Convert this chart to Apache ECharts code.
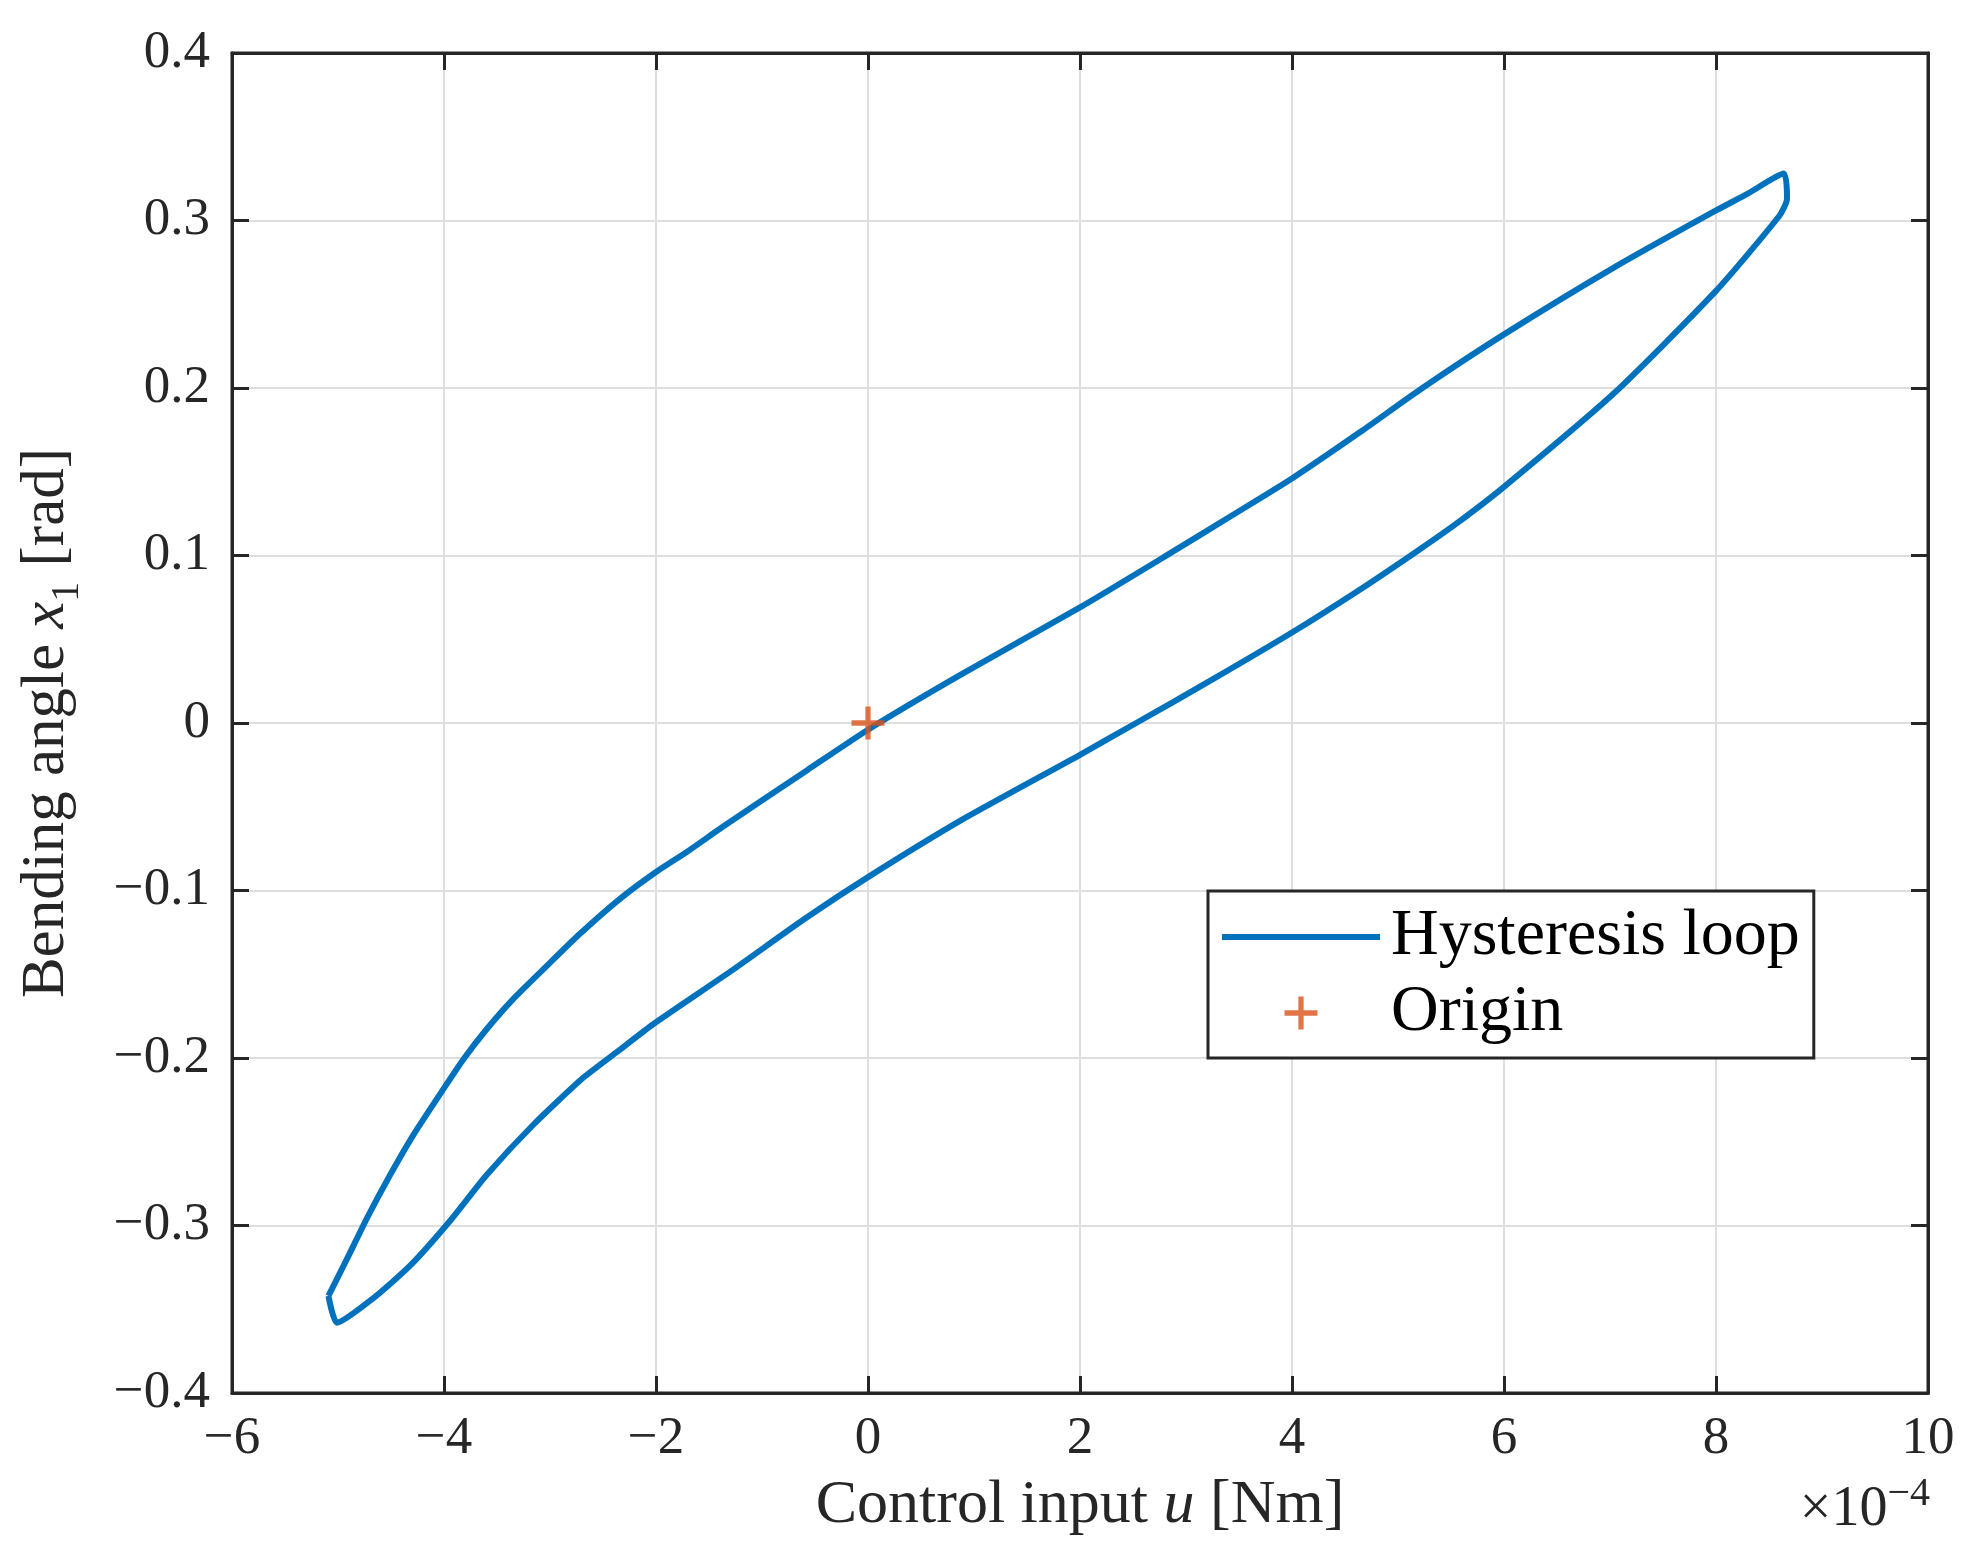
<!DOCTYPE html>
<html>
<head>
<meta charset="utf-8">
<script src="https://cdn.jsdelivr.net/npm/echarts@6/dist/echarts.min.js"></script>
<style>
html,body{margin:0;padding:0;background:#ffffff;}
#chart{width:1980px;height:1558px;}
</style>
</head>
<body>
<div id="chart"></div>
<script>
// ---- data (control input u in units of 1e-4 Nm, bending angle x1 in rad) ----
const xTickValues = [-6, -4, -2, 0, 2, 4, 6, 8, 10];
const yTickValues = [-0.4, -0.3, -0.2, -0.1, 0, 0.1, 0.2, 0.3, 0.4];
const xScaleLabel = '×10';
const xScaleExp = '−4';

// hysteresis loop traced in order (upper branch up, lower branch back down)
const loopU = [
  -5.09, -4.90, -4.73, -4.51, -4.29, -4.00, -3.82, -3.60, -3.35, -3.03,
  -2.72, -2.34, -2.00, -1.71, -1.37, -0.57, 0.00, 0.88, 2.00, 2.79,
  3.41, 4.00, 4.65, 5.23, 6.00, 7.04, 8.00, 8.30, 8.64,
  8.67,
  8.60, 8.00, 7.04, 6.00, 5.55, 5.19, 4.65, 4.00, 3.25, 2.53,
  2.00, 0.88, 0.00, -0.60, -1.29, -2.03, -2.34, -2.69, -3.16, -3.60,
  -3.94, -4.32, -4.66, -5.01, -5.09
];
const loopX1 = [
  -0.342, -0.318, -0.296, -0.270, -0.246, -0.218, -0.201, -0.183, -0.165, -0.145,
  -0.126, -0.105, -0.089, -0.077, -0.062, -0.028, -0.004, 0.029, 0.069, 0.099,
  0.123, 0.146, 0.174, 0.200, 0.232, 0.272, 0.306, 0.316, 0.328,
  0.313,
  0.303, 0.258, 0.197, 0.141, 0.119, 0.103, 0.080, 0.054, 0.026, 0.000,
  -0.019, -0.058, -0.092, -0.117, -0.148, -0.180, -0.195, -0.212, -0.240, -0.270,
  -0.297, -0.324, -0.343, -0.358, -0.342
];
const originU = [0];
const originX1 = [0];

const seriesNames = ['Hysteresis loop', 'Origin'];

// ---- chart ----
const FONT = '"Liberation Serif", "DejaVu Serif", serif';
const TXT = '#262626';
const fmt = v => {
  const r = Math.round(v * 10) / 10;
  return String(r).replace('-', '\u2212');
};

const loopData = loopU.map((u, i) => [u, loopX1[i]]);
const originData = originU.map((u, i) => [u, originX1[i]]);
const plusPath = 'path://M42,0 L58,0 L58,42 L100,42 L100,58 L58,58 L58,100 L42,100 L42,58 L0,58 L0,42 L42,42 Z';
const lineIcon = 'path://M0,0 L158,0 L158,6 L0,6 Z';

const chart = echarts.init(document.getElementById('chart'), null, {renderer: 'canvas'});

const axisCommon = {
  type: 'value',
  axisLine: {show: true, onZero: false, lineStyle: {color: TXT, width: 3}},
  axisTick: {show: true, inside: true, length: 17, lineStyle: {color: TXT, width: 3}},
};

chart.setOption({
  backgroundColor: '#ffffff',
  animation: false,
  grid: {left: 232, right: 52, top: 53, bottom: 165, containLabel: false,
         outerBoundsMode: 'none',
         show: true, borderColor: TXT, borderWidth: 3},
  xAxis: [
    Object.assign({}, axisCommon, {
      min: xTickValues[0], max: xTickValues[xTickValues.length - 1], interval: 2,
      position: 'bottom',
      axisLabel: {show: true, margin: 20, fontFamily: FONT, fontSize: 53, color: TXT, formatter: fmt},
      splitLine: {show: true, lineStyle: {color: '#dedede', width: 2}},
      name: 'Control input {i|u} [Nm]',
      nameLocation: 'middle', nameGap: 82,
      nameTextStyle: {fontFamily: FONT, fontSize: 62, color: TXT,
        rich: {i: {fontFamily: FONT, fontSize: 62, fontStyle: 'italic', color: TXT}}}
    }),
    Object.assign({}, axisCommon, {
      min: xTickValues[0], max: xTickValues[xTickValues.length - 1], interval: 2,
      position: 'top',
      axisLabel: {show: false}, splitLine: {show: false}
    })
  ],
  yAxis: [
    Object.assign({}, axisCommon, {
      min: yTickValues[0], max: yTickValues[yTickValues.length - 1], interval: 0.1,
      position: 'left',
      axisLabel: {show: true, margin: 22, fontFamily: FONT, fontSize: 53, color: TXT, formatter: fmt},
      splitLine: {show: true, lineStyle: {color: '#dedede', width: 2}},
      name: 'Bending angle {i|x}{s|1} [rad]',
      nameLocation: 'middle', nameGap: 145, nameRotate: 90,
      nameTextStyle: {fontFamily: FONT, fontSize: 61, color: TXT, lineHeight: 80,
        rich: {
          i: {fontFamily: FONT, fontSize: 61, fontStyle: 'italic', color: TXT, lineHeight: 80},
          s: {fontFamily: FONT, fontSize: 40, color: TXT, lineHeight: 40, verticalAlign: 'bottom'}
        }}
    }),
    Object.assign({}, axisCommon, {
      min: yTickValues[0], max: yTickValues[yTickValues.length - 1], interval: 0.1,
      position: 'right',
      axisLabel: {show: false}, splitLine: {show: false}
    })
  ],
  legend: {
    orient: 'vertical',
    left: 1208, top: 891,
    itemWidth: 158, itemHeight: 33, itemGap: 10,
    padding: [13, 14, 12, 14],
    borderColor: TXT, borderWidth: 3, backgroundColor: '#ffffff',
    textStyle: {fontFamily: FONT, fontSize: 66, color: '#000000', lineHeight: 66, padding: [0, 0, 0, 6]},
    data: [
      {name: seriesNames[0], icon: lineIcon, itemStyle: {color: '#0072BD'}},
      {name: seriesNames[1], icon: plusPath}
    ]
  },
  graphic: [{
    type: 'text',
    right: 50, top: 1474,
    style: {
      text: '{a|' + xScaleLabel + '}{b|' + xScaleExp + '}',
      rich: {
        a: {fontFamily: FONT, fontSize: 56, fill: TXT, lineHeight: 64, verticalAlign: 'bottom'},
        b: {fontFamily: FONT, fontSize: 40, fill: TXT, lineHeight: 40, verticalAlign: 'top'}
      }
    }
  }],
  series: [
    {
      name: seriesNames[0],
      type: 'line',
      xAxisIndex: 0, yAxisIndex: 0,
      data: loopData,
      smooth: 0.2,
      symbol: 'none', showSymbol: false,
      lineStyle: {color: '#0072BD', width: 6, join: 'round'},
      itemStyle: {color: '#0072BD'},
      z: 3
    },
    {
      name: seriesNames[1],
      type: 'scatter',
      xAxisIndex: 0, yAxisIndex: 0,
      data: originData,
      symbol: plusPath,
      symbolSize: 33,
      itemStyle: {color: '#D95319'},
      z: 4
    }
  ]
});
</script>
</body>
</html>
